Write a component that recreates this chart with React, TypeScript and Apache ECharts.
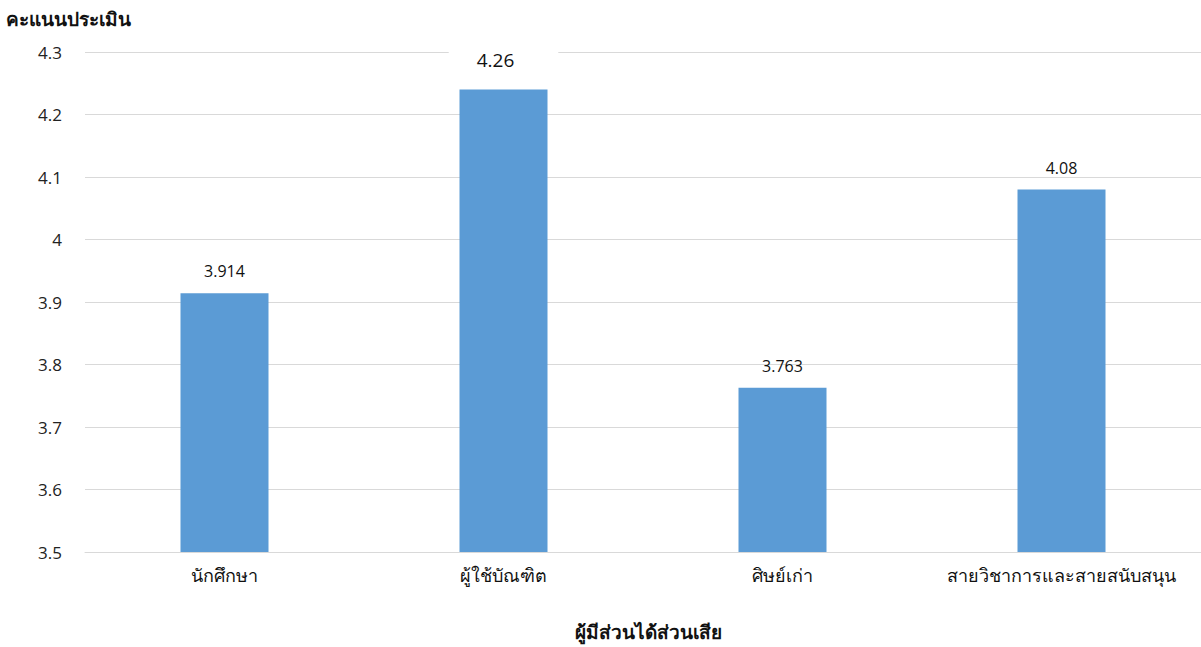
import React, { useEffect, useRef } from "react";
import * as echarts from "echarts";

const categories = ["นักศึกษา", "ผู้ใช้บัณฑิต", "ศิษย์เก่า", "สายวิชาการและสายสนับสนุน"];
const barValues = [3.914, 4.24, 3.763, 4.08];
const barLabels = ["3.914", "4.26", "3.763", "4.08"];
const yAxisTitle = "คะแนนประเมิน";
const xAxisTitle = "ผู้มีส่วนได้ส่วนเสีย";

const FONT = "'Open Sans', 'Noto Sans', 'DejaVu Sans', sans-serif";

export default function App() {
  const ref = useRef<HTMLDivElement>(null);
  useEffect(() => {
    const chart = echarts.init(ref.current!, null, { renderer: "svg" });
    chart.setOption({
      animation: false,
      backgroundColor: "#ffffff",
      grid: { left: 85, right: 0, top: 52, bottom: 95, containLabel: false },
      graphic: [
        {
          type: "text",
          left: 6,
          top: 9,
          style: { text: yAxisTitle, fontSize: 19, fontWeight: "bold", fill: "#111", fontFamily: FONT },
        },
        {
          type: "text",
          x: 648,
          y: 632,
          style: {
            text: xAxisTitle,
            fontSize: 19,
            fontWeight: "bold",
            fill: "#111",
            fontFamily: FONT,
            align: "center",
            verticalAlign: "middle",
          },
        },
      ],
      xAxis: {
        type: "category",
        data: categories,
        axisLine: { lineStyle: { color: "#d9d9d9", width: 1 } },
        axisTick: { show: false },
        axisLabel: {
          interval: 0,
          hideOverlap: false,
          fontSize: 18,
          color: "#111",
          margin: 14,
          fontFamily: FONT,
        },
      },
      yAxis: {
        type: "value",
        min: 3.5,
        max: 4.3,
        interval: 0.1,
        axisLine: { show: false },
        axisTick: { show: false },
        splitLine: { lineStyle: { color: "#d9d9d9", width: 1 } },
        axisLabel: { fontSize: 17, color: "#222", margin: 23, fontFamily: FONT },
      },
      series: [
        {
          type: "bar",
          data: barValues.map((v, i) =>
            i === 1
              ? {
                  value: v,
                  label: {
                    fontSize: 19,
                    backgroundColor: "#ffffff",
                    padding: [8, 44, 8, 28],
                  },
                }
              : v
          ),
          barWidth: 88,
          itemStyle: { color: "#5b9bd5" },
          label: {
            show: true,
            position: "top",
            distance: 14,
            fontSize: 16,
            color: "#111",
            fontFamily: FONT,
            formatter: (p: any) => barLabels[p.dataIndex],
          },
          labelLayout: (p: any) =>
            p.dataIndex === 1 ? { y: 60, align: "center", verticalAlign: "middle" } : {},
        },
      ],
    });
    return () => chart.dispose();
  }, []);
  return (
    <div
      ref={ref}
      style={{ position: "fixed", left: 0, top: 0, width: 1201, height: 647, background: "#fff" }}
    />
  );
}
